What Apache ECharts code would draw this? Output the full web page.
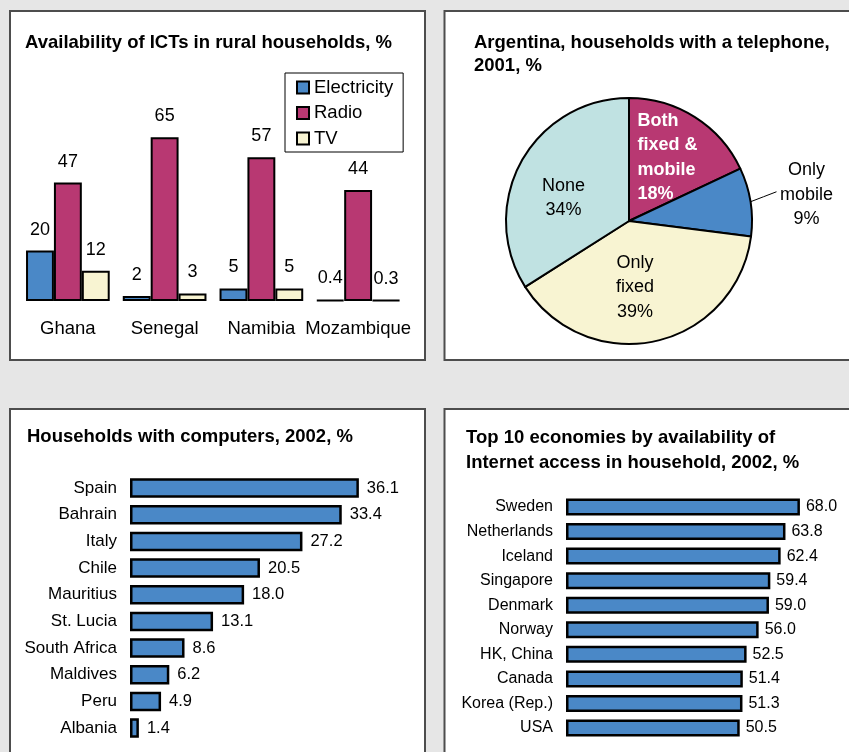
<!DOCTYPE html>
<html><head><meta charset="utf-8">
<script src="https://cdn.jsdelivr.net/npm/echarts@6/dist/echarts.min.js"></script>
<style>html,body{margin:0;padding:0;background:#e6e6e6}#c{width:849px;height:752px}</style>
</head><body><div id="c"></div>
<script>
// ---- data ----
const ictCategories = ['Ghana', 'Senegal', 'Namibia', 'Mozambique'];
const electricity = [20, 2, 5, 0.4];
const radio = [47, 65, 57, 44];
const tv = [12, 3, 5, 0.3];

const phoneNames = ['Both\nfixed &\nmobile', 'Only\nmobile', 'Only\nfixed', 'None'];
const phoneValues = [18, 9, 39, 34];

const compCountries = ['Spain', 'Bahrain', 'Italy', 'Chile', 'Mauritius', 'St. Lucia', 'South Africa', 'Maldives', 'Peru', 'Albania'];
const compValues = [36.1, 33.4, 27.2, 20.5, 18.0, 13.1, 8.6, 6.2, 4.9, 1.4];

const netCountries = ['Sweden', 'Netherlands', 'Iceland', 'Singapore', 'Denmark', 'Norway', 'HK, China', 'Canada', 'Korea (Rep.)', 'USA'];
const netValues = [68.0, 63.8, 62.4, 59.4, 59.0, 56.0, 52.5, 51.4, 51.3, 50.5];

// ---- style ----
const BLUE = '#4a88c7', MAG = '#b83872', CREAM = '#f8f4d2', TEAL = '#c0e2e2';
const FONT = 'Liberation Sans, Arial, sans-serif';
const border = { borderColor: '#000', borderWidth: 2 };
const hBorder = { borderColor: '#000', borderWidth: 2.5 };

const chart = echarts.init(document.getElementById('c'), null, { renderer: 'canvas' });

const panelStyle = { fill: '#fff', stroke: '#4d4d4d', lineWidth: 2 };
const phoneOffsets = [
  { align: 'left', dx: -26, dy: -9 },
  null,
  { align: 'center', dx: -8, dy: 3.5 },
  { align: 'center', dx: -9, dy: 8 }
];

const option = {
  backgroundColor: '#e6e6e6',
  animation: false,
  textStyle: { fontFamily: FONT },
  graphic: [
    { type: 'rect', z: -10, shape: { x: 10, y: 11, width: 415, height: 349 }, style: panelStyle },
    { type: 'rect', z: -10, shape: { x: 444.5, y: 11, width: 420, height: 349 }, style: panelStyle },
    { type: 'rect', z: -10, shape: { x: 10, y: 409, width: 415, height: 360 }, style: panelStyle },
    { type: 'rect', z: -10, shape: { x: 444.5, y: 409, width: 420, height: 360 }, style: panelStyle }
  ],
  title: [
    { text: 'Availability of ICTs in rural households, %', left: 25, top: 31, padding: 0,
      textStyle: { fontSize: 18.5, fontWeight: 'bold', color: '#000', lineHeight: 24, fontFamily: FONT } },
    { text: 'Argentina, households with a telephone,\n2001, %', left: 474, top: 31, padding: 0,
      textStyle: { fontSize: 18.5, fontWeight: 'bold', color: '#000', lineHeight: 23.5, fontFamily: FONT } },
    { text: 'Households with computers, 2002, %', left: 27, top: 425, padding: 0,
      textStyle: { fontSize: 18.5, fontWeight: 'bold', color: '#000', lineHeight: 24, fontFamily: FONT } },
    { text: 'Top 10 economies by availability of\nInternet access in household, 2002, %', left: 466, top: 425, padding: 0,
      textStyle: { fontSize: 18.5, fontWeight: 'bold', color: '#000', lineHeight: 25, fontFamily: FONT } }
  ],
  legend: {
    data: ['Electricity', 'Radio', 'TV'],
    orient: 'vertical', left: 285, top: 73,
    padding: [5, 10, 4, 11],
    backgroundColor: '#fff', borderColor: '#000', borderWidth: 1, borderRadius: 0,
    itemWidth: 12, itemHeight: 12, itemGap: 6.5,
    icon: 'rect',
    itemStyle: { borderColor: '#000', borderWidth: 2 },
    textStyle: { fontSize: 18.5, color: '#000', lineHeight: 17.5, fontFamily: FONT }
  },
  grid: [
    { left: 19.5, width: 387, top: 99.4, height: 201.6 },
    { left: 130, width: 253.6, top: 474.7, height: 266.7 },
    { left: 566, width: 275.2, top: 494.7, height: 245.6 }
  ],
  xAxis: [
    { type: 'category', gridIndex: 0, data: ictCategories,
      axisLine: { show: false }, axisTick: { show: false },
      axisLabel: { interval: 0, fontSize: 18.5, color: '#000', margin: 18, fontFamily: FONT } },
    { type: 'value', gridIndex: 1, min: 0, max: 40, show: false },
    { type: 'value', gridIndex: 2, min: 0, max: 80, show: false }
  ],
  yAxis: [
    { type: 'value', gridIndex: 0, min: 0, max: 80, show: false },
    { type: 'category', gridIndex: 1, data: compCountries, inverse: true,
      axisLine: { show: false }, axisTick: { show: false },
      axisLabel: { interval: 0, fontSize: 17, color: '#000', margin: 13, fontFamily: FONT } },
    { type: 'category', gridIndex: 2, data: netCountries, inverse: true,
      axisLine: { show: false }, axisTick: { show: false },
      axisLabel: { interval: 0, fontSize: 16, color: '#000', margin: 13, fontFamily: FONT } }
  ],
  series: [
    { name: 'Electricity', type: 'bar', xAxisIndex: 0, yAxisIndex: 0, data: electricity,
      barGap: '0%', barCategoryGap: '13.5%',
      itemStyle: Object.assign({ color: BLUE }, border),
      label: { show: true, position: 'top', distance: 12, fontSize: 18, color: '#000', fontFamily: FONT } },
    { name: 'Radio', type: 'bar', xAxisIndex: 0, yAxisIndex: 0, data: radio,
      barGap: '0%', barCategoryGap: '13.5%',
      itemStyle: Object.assign({ color: MAG }, border),
      label: { show: true, position: 'top', distance: 12, fontSize: 18, color: '#000', fontFamily: FONT } },
    { name: 'TV', type: 'bar', xAxisIndex: 0, yAxisIndex: 0, data: tv,
      barGap: '0%', barCategoryGap: '13.5%',
      itemStyle: Object.assign({ color: CREAM }, border),
      label: { show: true, position: 'top', distance: 12, fontSize: 18, color: '#000', fontFamily: FONT } },
    { name: 'Telephone', type: 'pie', center: [629, 221], radius: [0, 123],
      startAngle: 90, clockwise: true, avoidLabelOverlap: false,
      data: phoneNames.map((n, i) => ({ name: n, value: phoneValues[i] })),
      itemStyle: { borderColor: '#000', borderWidth: 2 },
      color: [MAG, BLUE, CREAM, TEAL],
      label: { show: true, position: 'inside', fontSize: 18, lineHeight: 24.5, color: '#000', fontFamily: FONT,
        formatter: p => p.name + '\n' + p.value + '%' },
      labelLine: { show: false, lineStyle: { color: '#000', width: 1 } },
      emphasis: { disabled: true },
      labelLayout: function (params) {
        const i = params.dataIndex;
        const r = params.labelRect;
        if (i === 1) {
          const pts = params.labelLinePoints;
          const p0 = pts ? pts[0] : [r.x, r.y + r.height / 2];
          return {
            x: p0[0] + 56, y: p0[1] - 7, align: 'center', verticalAlign: 'middle',
            labelLinePoints: [p0, [p0[0] + 13, p0[1] - 5], [p0[0] + 26, p0[1] - 10]]
          };
        }
        const o = phoneOffsets[i];
        const cx = r.x + r.width / 2, cy = r.y + r.height / 2;
        return { x: cx + o.dx, y: cy + o.dy, align: o.align, verticalAlign: 'middle' };
      }
    },
    { name: 'Computers', type: 'bar', xAxisIndex: 1, yAxisIndex: 1, data: compValues, barWidth: 19.5,
      itemStyle: Object.assign({ color: BLUE }, hBorder),
      label: { show: true, position: 'right', distance: 8, fontSize: 16.5, color: '#000', fontFamily: FONT,
        formatter: p => p.value.toFixed(1) } },
    { name: 'Internet', type: 'bar', xAxisIndex: 2, yAxisIndex: 2, data: netValues, barWidth: 17,
      itemStyle: Object.assign({ color: BLUE }, hBorder),
      label: { show: true, position: 'right', distance: 6, fontSize: 16, color: '#000', fontFamily: FONT,
        formatter: p => p.value.toFixed(1) } }
  ]
};
// per-slice label styling: Both label white bold, Only mobile outside
option.series[3].data[0].label = { color: '#fff', fontWeight: 'bold', align: 'left' };
option.series[3].data[1].label = { position: 'outside', align: 'center' };
option.series[3].data[1].labelLine = { show: true, length: 6, length2: 14 };
chart.setOption(option);
</script></body></html>
